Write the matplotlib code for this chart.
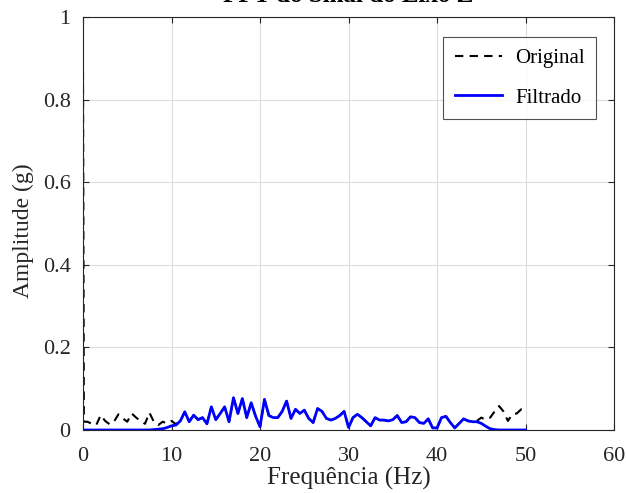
import numpy as np
import matplotlib
matplotlib.use("Agg")
import matplotlib.pyplot as plt

plt.rcParams['font.family'] = ['Liberation Serif', 'DejaVu Serif']

freq = np.concatenate([[0.0, 0.1], np.arange(0.5, 50.01, 0.5)])

filtrado = [
    0, 0,                                       # 0.0, 0.1
    0, 0, 0, 0, 0, 0, 0, 0, 0,                  # 0.5 - 4.5
    0, 0, 0, 0, 0, 0.0, 0.001, 0.002, 0.003, 0.006,  # 5.0 - 9.5
    0.010, 0.012, 0.022, 0.044, 0.020, 0.036, 0.025, 0.030, 0.015, 0.056,  # 10.0 - 14.5
    0.025, 0.040, 0.056, 0.020, 0.078, 0.040, 0.076, 0.030, 0.066, 0.033,  # 15.0 - 19.5
    0.008, 0.074, 0.035, 0.030, 0.030, 0.045, 0.070, 0.028, 0.050, 0.040,  # 20.0 - 24.5
    0.048, 0.028, 0.018, 0.052, 0.045, 0.028, 0.024, 0.028, 0.035, 0.045,  # 25.0 - 29.5
    0.006, 0.030, 0.038, 0.030, 0.020, 0.010, 0.030, 0.024, 0.024, 0.022,  # 30.0 - 34.5
    0.025, 0.035, 0.018, 0.020, 0.032, 0.030, 0.018, 0.016, 0.027, 0.005,  # 35.0 - 39.5
    0.005, 0.030, 0.033, 0.018, 0.005, 0.016, 0.027, 0.022, 0.020, 0.020,  # 40.0 - 44.5
    0.016, 0.009, 0.003, 0.001, 0, 0, 0, 0, 0, 0,  # 45.0 - 49.5
    0,                                          # 50.0
]

original = [
    0.870, 0.020,                               # 0.0, 0.1
    0.020, 0.015, 0.012, 0.036, 0.022, 0.014, 0.020, 0.038, 0.028,  # 0.5 - 4.5
    0.020, 0.040, 0.030, 0.022, 0.015, 0.042, 0.020, 0.012, 0.020, 0.016,  # 5.0 - 9.5
    0.022, 0.014, 0.023, 0.044, 0.020, 0.036, 0.025, 0.030, 0.015, 0.056,  # 10.0 - 14.5
    0.025, 0.040, 0.056, 0.020, 0.078, 0.040, 0.076, 0.030, 0.066, 0.033,  # 15.0 - 19.5
    0.008, 0.074, 0.035, 0.030, 0.030, 0.045, 0.070, 0.028, 0.050, 0.040,  # 20.0 - 24.5
    0.048, 0.028, 0.018, 0.052, 0.045, 0.028, 0.024, 0.028, 0.035, 0.045,  # 25.0 - 29.5
    0.006, 0.030, 0.038, 0.030, 0.020, 0.010, 0.030, 0.024, 0.024, 0.022,  # 30.0 - 34.5
    0.025, 0.035, 0.018, 0.020, 0.032, 0.030, 0.018, 0.016, 0.027, 0.005,  # 35.0 - 39.5
    0.005, 0.030, 0.033, 0.018, 0.005, 0.016, 0.027, 0.022, 0.020, 0.022,  # 40.0 - 44.5
    0.030, 0.025, 0.030, 0.045, 0.058, 0.045, 0.022, 0.038, 0.040, 0.050,  # 45.0 - 49.5
    0.045,                                      # 50.0
]

xticks = [0, 10, 20, 30, 40, 50, 60]
yticks = [0, 0.2, 0.4, 0.6, 0.8, 1]
ytick_labels = ['0', '0.2', '0.4', '0.6', '0.8', '1']

fig = plt.figure(figsize=(6.26, 4.93), dpi=100)
ax = fig.add_axes([0.1326, 0.1278, 0.981 - 0.1326, 0.9655 - 0.1278])

ax.plot(freq, original, color='black', linestyle='--', linewidth=1.5, label='Original', dashes=(4, 3))
ax.plot(freq, filtrado, color='#0000ff', linewidth=2.0, label='Filtrado')

ax.set_xlim(0, 60)
ax.set_ylim(0, 1)
ax.set_xticks(xticks)
ax.set_yticks(yticks)
ax.set_yticklabels(ytick_labels)
ax.grid(True, color='#dcdcdc', linewidth=0.8)
ax.set_axisbelow(True)
ax.tick_params(direction='in', top=True, right=True, labelsize=16, length=4,
               color='#262626', labelcolor='#262626', width=0.8)
ax.tick_params(axis='x', pad=12)
ax.tick_params(axis='y', pad=9)
for s in ax.spines.values():
    s.set_color('#262626')
    s.set_linewidth(0.8)

ax.set_xlabel('Frequência (Hz)', fontsize=18, color='#262626', labelpad=1)
ax.set_ylabel('Amplitude (g)', fontsize=17, color='#262626')
ax.yaxis.set_label_coords(-0.093, 0.482)
ax.set_title('FFT do Sinal do Eixo Z', fontsize=18, fontweight='bold', color='black', pad=11)

leg = ax.legend(loc='upper right', bbox_to_anchor=(0.966, 0.951), borderaxespad=0, fontsize=15,
                frameon=True, fancybox=False, edgecolor='#262626', handlelength=2.3,
                borderpad=0.55, labelspacing=0.95, handletextpad=0.6)
leg.get_frame().set_linewidth(0.8)

fig.savefig('out.png', dpi=100)
